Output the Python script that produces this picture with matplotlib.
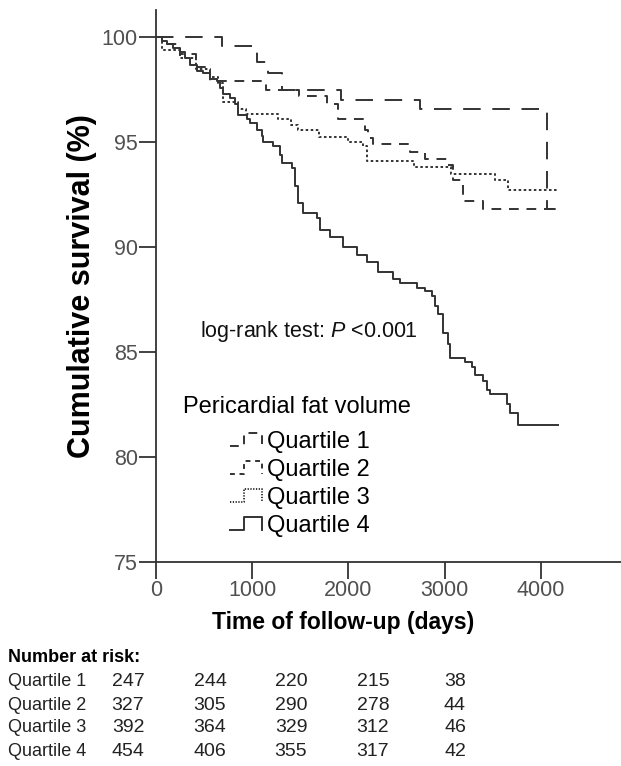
import matplotlib
matplotlib.use("Agg")
import matplotlib.pyplot as plt
from matplotlib.legend_handler import HandlerBase
from matplotlib.lines import Line2D

plt.rcParams['font.family'] = ['Liberation Sans', 'DejaVu Sans']
plt.rcParams['mathtext.fontset'] = 'custom'
plt.rcParams['mathtext.it'] = 'Liberation Sans:italic'
plt.rcParams['mathtext.rm'] = 'Liberation Sans'

# survival curves (days, % surviving after each step)
q1_t = [0, 683, 1054, 1168, 1307, 1927, 2745, 4062, 4166]
q1_s = [100, 99.6, 98.8, 98.3, 97.5, 97.0, 96.6, 91.8, 91.8]

q2_t = [0, 60, 250, 420, 560, 1140, 1490, 1775, 1896, 2170, 2200, 2253, 2640,
        2797, 3022, 3092, 3196, 3404, 4166]
q2_s = [100, 99.7, 99.2, 98.6, 97.9, 97.5, 97.2, 96.8, 96.1, 95.6, 95.2, 94.9,
        94.55, 94.2, 93.9, 93.2, 92.2, 91.8, 91.8]

q3_t = [0, 59, 250, 420, 560, 640, 700, 850, 940, 1270, 1400, 1480, 1690, 2000,
        2150, 2190, 2680, 3070, 3530, 3665, 4166]
q3_s = [100, 99.4, 99.0, 98.5, 98.1, 97.8, 96.9, 96.6, 96.35, 96.1, 95.8, 95.6,
        95.25, 95.0, 94.8, 94.1, 93.8, 93.5, 93.2, 92.7, 92.7]

q4_t = [0, 59, 111, 180, 250, 302, 354, 423, 492, 562, 631, 666, 700, 770, 822,
        856, 943, 978, 1047, 1099, 1116, 1220, 1290, 1307, 1411, 1445, 1480,
        1532, 1671, 1705, 1809, 1948, 2087, 2191, 2312, 2468, 2537, 2711, 2797,
        2867, 2901, 2936, 2988, 3040, 3057, 3213, 3282, 3317, 3404, 3438, 3473,
        3646, 3681, 3768, 4184]
q4_s = [100, 99.8, 99.7, 99.5, 99.3, 99.0, 98.7, 98.4, 98.3, 98.0, 97.9, 97.6,
        97.3, 97.1, 96.8, 96.3, 96.1, 95.9, 95.6, 95.3, 95.0, 94.8, 94.4, 94.0,
        93.75, 92.9, 92.1, 91.6, 91.4, 90.8, 90.5, 90.0, 89.6, 89.3, 88.8, 88.5,
        88.3, 88.05, 87.9, 87.65, 87.2, 86.8, 85.9, 85.4, 84.7, 84.5, 84.3, 83.9,
        83.6, 83.2, 83.0, 82.5, 82.1, 81.5, 81.5]

labels = ['Quartile 1', 'Quartile 2', 'Quartile 3', 'Quartile 4']
risk_times = [0, 1000, 2000, 3000, 4000]
at_risk = [[247, 244, 220, 215, 38],
           [327, 305, 290, 278, 44],
           [392, 364, 329, 312, 46],
           [454, 406, 355, 317, 42]]

dashes = [(9, 6), (5, 4), (1.3, 1.3), None]
col = '#333333'


class StepHandler(HandlerBase):
    # little step glyph like the SPSS legend
    def create_artists(self, legend, orig_handle, xdescent, ydescent,
                       width, height, fontsize, trans):
        x0 = -xdescent
        y0 = -ydescent
        h = height
        xs = [x0, x0 + 0.45 * width, x0 + 0.45 * width, x0 + width, x0 + width]
        ys = [y0, y0, y0 + h, y0 + h, y0]
        ln = Line2D(xs, ys, color=orig_handle.get_color(),
                    linewidth=orig_handle.get_linewidth())
        d = orig_handle.dash_src
        if d is not None:
            ln.set_dashes((d[0] * 0.5, d[1] * 0.6))
        ln.set_transform(trans)
        return [ln]


fig = plt.figure(figsize=(6.21, 7.66), dpi=100)
ax = fig.add_axes([156 / 621, 1 - 561.7 / 766, 1 - 156 / 621, 551.7 / 766])

handles = []
for t, s, d in zip([q1_t, q2_t, q3_t, q4_t], [q1_s, q2_s, q3_s, q4_s], dashes):
    ln, = ax.step(t, s, where='post', color=col, lw=1.4)
    if d is not None:
        ln.set_dashes(d)
    ln.dash_src = d
    handles.append(ln)

ax.set_xlim(0, 4835)
ax.set_ylim(75, 101.3)
ax.set_xticks(risk_times)
ax.set_yticks([75, 80, 85, 90, 95, 100])
ax.spines['top'].set_visible(False)
ax.spines['right'].set_visible(False)
for sp in ['left', 'bottom']:
    ax.spines[sp].set_color('#333333')
    ax.spines[sp].set_linewidth(1.3)
ax.tick_params(length=12, width=1.3, color='#333333', labelsize=15.5,
               labelcolor='#505050', pad=1)

fig.text(200 / 621, 1 - 332 / 766, 'log-rank test: $\\it{P}$ <0.001',
         fontsize=15.5, va='center', ha='left', color='#111111')

fig.text(183 / 621, 1 - 407 / 766, 'Pericardial fat volume', fontsize=17,
         va='center', ha='left')
fig.legend(handles, labels, loc='upper left',
           bbox_to_anchor=(230 / 621, 1 - 431 / 766),
           frameon=False, fontsize=17, borderpad=0, borderaxespad=0,
           handlelength=1.35, handleheight=0.45, handletextpad=0.2,
           labelspacing=0.25,
           handler_map={Line2D: StepHandler()})

fig.text(82 / 621, 1 - 286 / 766, 'Cumulative survival (%)', rotation=90,
         fontsize=22, fontweight='bold', ha='center', va='center')
fig.text(343 / 621, 1 - 623 / 766, 'Time of follow-up (days)',
         fontsize=16.5, fontweight='bold', ha='center', va='center')

# number at risk table
fig.text(8 / 621, 1 - 657 / 766, 'Number at risk:', fontsize=13,
         fontweight='bold', va='center', ha='left')
col_x = [128, 210, 291, 373, 455]
row_y = [681, 705, 728, 752]
for lab, counts, yy in zip(labels, at_risk, row_y):
    fig.text(8 / 621, 1 - yy / 766, lab, fontsize=13,
             va='center', ha='left', color='#222222')
    for n, xx in zip(counts, col_x):
        fig.text(xx / 621, 1 - yy / 766, str(n), fontsize=14,
                 va='center', ha='center', color='#222222')

fig.savefig('out.png', dpi=100)
